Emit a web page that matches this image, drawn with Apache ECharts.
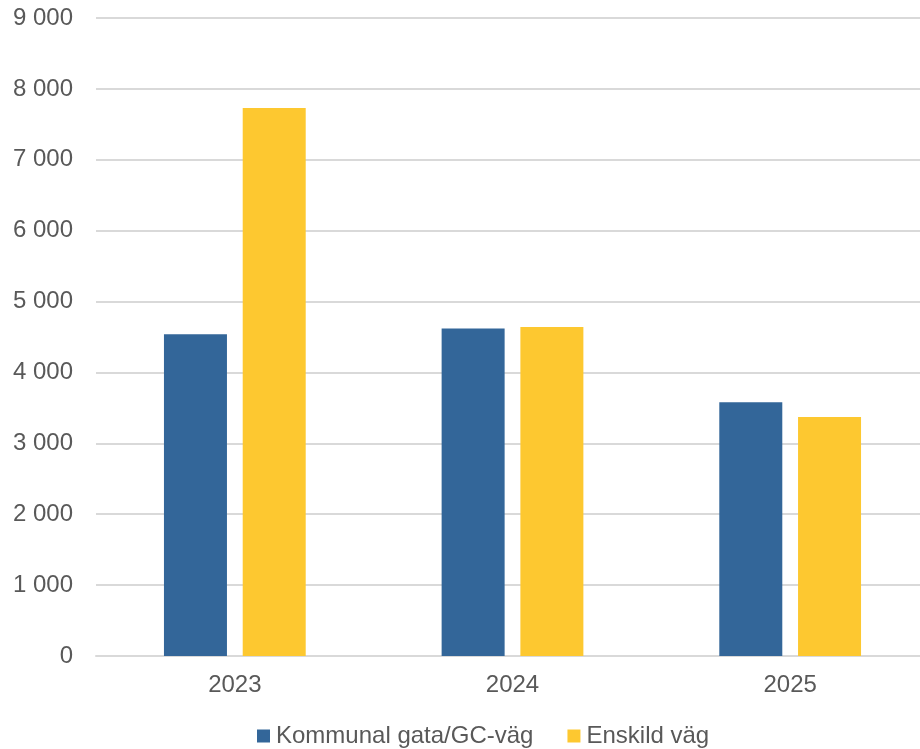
<!DOCTYPE html>
<html>
<head>
<meta charset="utf-8">
<script src="https://cdn.jsdelivr.net/npm/echarts@6/dist/echarts.min.js"></script>
<style>
  html, body { margin: 0; padding: 0; background: #fff; overflow: hidden; }
  /* the plot runs a few pixels past the right edge of the picture */
  #chart { width: 929px; height: 749px; }
</style>
</head>
<body>
<div id="chart"></div>
<script>
const years = ['2023', '2024', '2025']
const seriesNames = ['Kommunal gata/GC-väg', 'Enskild väg']
const kommunal = [4540, 4620, 3580]
const enskild = [7730, 4640, 3370]

const fmt = v => String(v).replace(/\B(?=(\d{3})+(?!\d))/g, ' ')

const chart = echarts.init(document.getElementById('chart'))
chart.setOption({
  animation: false,
  textStyle: { fontFamily: 'Liberation Sans, Arial, sans-serif' },
  grid: { left: 96, right: 0, top: 18, bottom: 93, containLabel: false },
  legend: {
    top: 724,
    left: 257,
    padding: 0,
    itemWidth: 13,
    itemHeight: 13,
    itemGap: 34,
    icon: 'rect',
    textStyle: { color: '#595959', fontSize: 24, padding: [0, 0, 0, 1] },
    data: seriesNames
  },
  xAxis: {
    type: 'category',
    data: years,
    axisTick: { show: false },
    axisLine: { lineStyle: { color: '#d9d9d9', width: 2 } },
    axisLabel: { color: '#595959', fontSize: 24, margin: 17 }
  },
  yAxis: {
    type: 'value',
    min: 0,
    max: 9000,
    interval: 1000,
    axisLine: { show: false },
    axisTick: { show: false },
    splitLine: { lineStyle: { color: '#d9d9d9', width: 2 } },
    axisLabel: { color: '#595959', fontSize: 24, margin: 23, formatter: fmt }
  },
  series: [
    {
      name: seriesNames[0],
      type: 'bar',
      data: kommunal,
      barWidth: 63,
      barGap: '25%',
      itemStyle: { color: '#336699' }
    },
    {
      name: seriesNames[1],
      type: 'bar',
      data: enskild,
      barWidth: 63,
      itemStyle: { color: '#fdc830' }
    }
  ]
})
</script>
</body>
</html>
